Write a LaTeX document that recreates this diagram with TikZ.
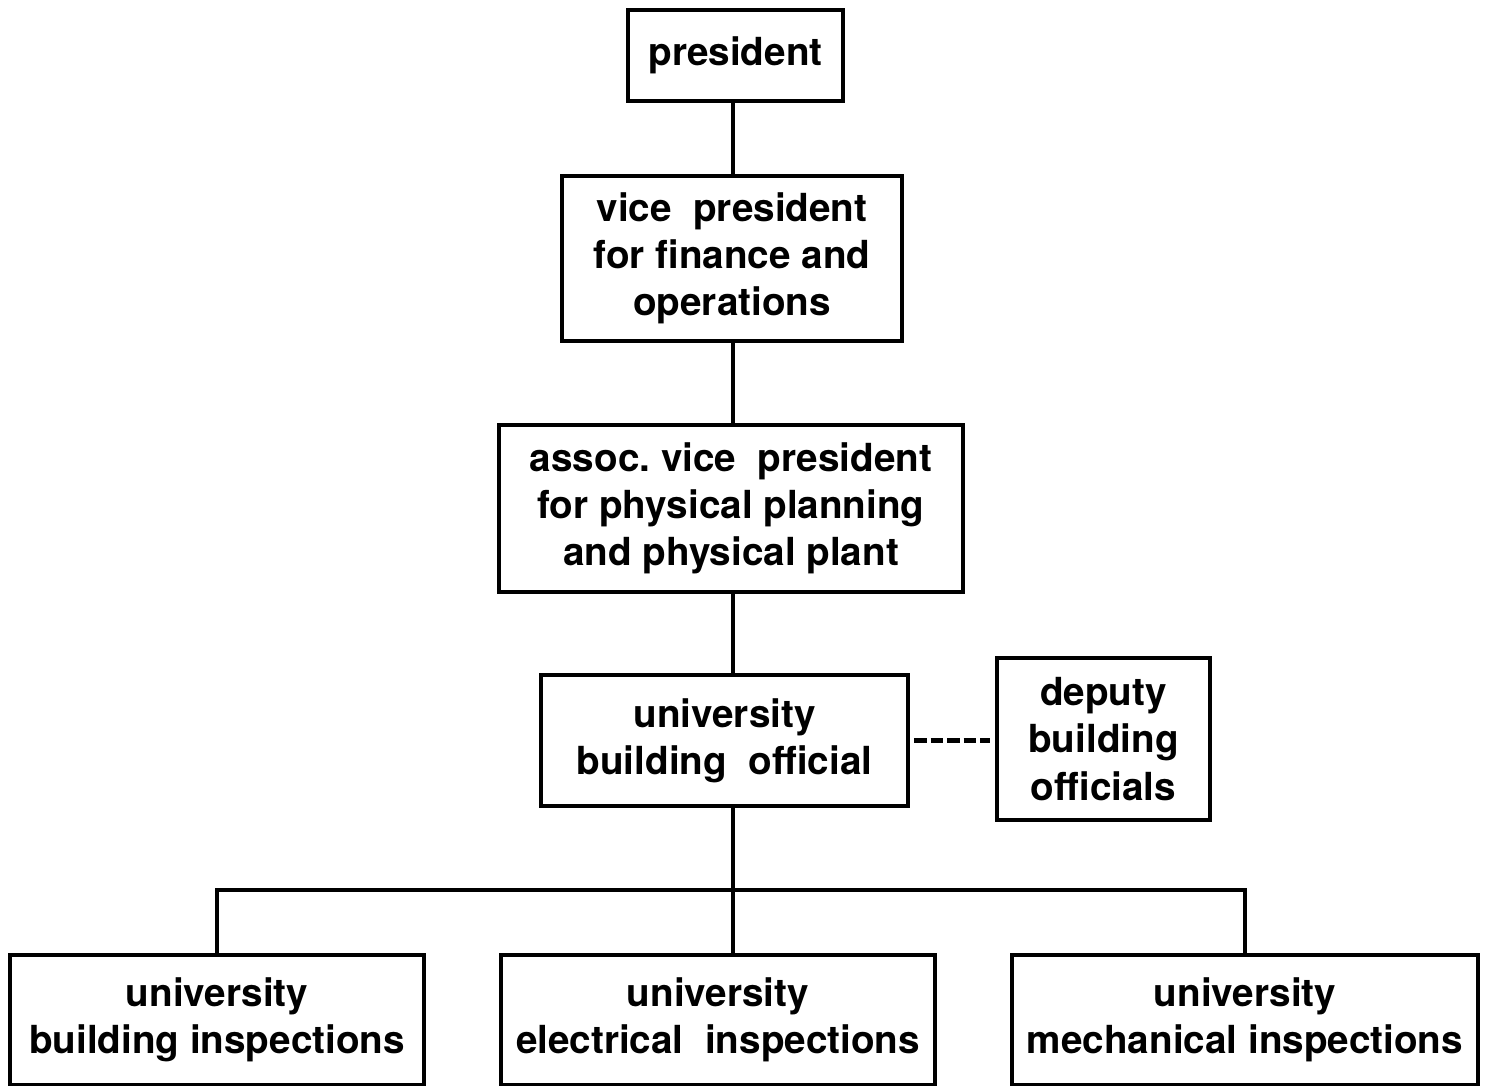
\documentclass[tikz,border=0pt]{standalone}
\usepackage{fontspec}
\setmainfont{TeX Gyre Heros}
\usepackage{tikz}
\usetikzlibrary{positioning,calc}

\tikzset{
    office/.style={draw, line width=1.1pt, align=center, inner sep=0pt,
        font=\bfseries\fontsize{11}{13.4}\selectfont},
    link/.style={line width=1.1pt},
}

\begin{document}
\begin{tikzpicture}
    \useasboundingbox (0,0) rectangle (14.89,10.85);

    % top of the chart
    \node[office, minimum width=2.15cm, minimum height=0.91cm] (pres) at (7.355,10.295) {president};
    \node[office, minimum width=3.40cm, minimum height=1.65cm] (vp) at (7.32,8.265) {vice\ \ president\\for finance and\\operations};
    \node[office, minimum width=4.64cm, minimum height=1.67cm] (avp) at (7.31,5.765) {assoc.\ vice\ \ president\\for physical planning\\and physical plant};

    % building official and deputies
    \node[office, minimum width=3.67cm, minimum height=1.31cm] (ubo) at (7.245,3.445) {university\\building\ \ official};
    \node[office, minimum width=2.13cm, minimum height=1.62cm] (dep) at (11.035,3.46) {deputy\\building\\officials};

    % inspections
    \node[office, minimum width=4.14cm, minimum height=1.30cm] (bld) at (2.17,0.65) {university\\building inspections};
    \node[office, minimum width=4.34cm, minimum height=1.30cm] (elec) at (7.18,0.65) {university\\electrical\ \ inspections};
    \node[office, minimum width=4.66cm, minimum height=1.30cm] (mech) at (12.45,0.65) {university\\mechanical inspections};

    \coordinate (spine) at (7.33,1.95);

    % connectors
    \draw[link] (pres.south -| spine) -- (vp.north -| spine);
    \draw[link] (vp.south -| spine) -- (avp.north -| spine);
    \draw[link] (avp.south -| spine) -- (ubo.north -| spine);
    \draw[link] (ubo.south -| spine) -- (elec.north -| spine);
    \draw[link] (bld.north) -- (bld.north |- spine) -- (mech.north |- spine) -- (mech.north);
    \draw[line width=1.5pt, dash pattern=on 3.6pt off 1.1pt, shorten <=1.2pt, shorten >=1.5pt] (ubo.east) -- (ubo.east -| dep.west);
\end{tikzpicture}
\end{document}
